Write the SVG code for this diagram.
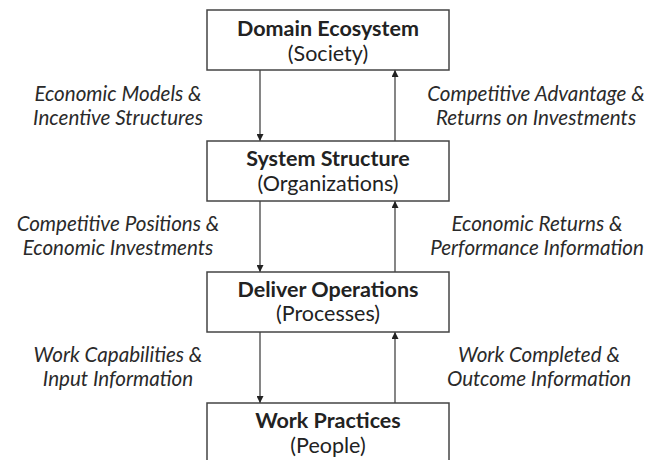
<svg xmlns="http://www.w3.org/2000/svg" width="665" height="460" viewBox="0 0 665 460">
<style>
.box{fill:#fff;stroke:#444;stroke-width:1.5}
.t{font-family:Lato,"Noto Sans",sans-serif;font-size:21.5px;fill:#222;text-anchor:middle}
.b{font-weight:bold}
.l{font-family:Lato,"Noto Sans",sans-serif;font-size:20.6px;font-style:italic;fill:#2a2a2a;text-anchor:middle}
.c{stroke:#444;stroke-width:1.3;fill:none;marker-end:url(#ah)}
</style>
<defs>
<marker id="ah" viewBox="0 0 10 10" refX="10" refY="5" markerWidth="7" markerHeight="7" markerUnits="userSpaceOnUse" orient="auto">
<path d="M0,0 L10,5 L0,10 Z" fill="#222"/>
</marker>
</defs>
<rect width="665" height="460" fill="#fff"/>
<g id="connectors">
<line class="c" x1="260" y1="70" x2="260" y2="141"/>
<line class="c" x1="395" y1="141" x2="395" y2="70"/>
<line class="c" x1="260" y1="201" x2="260" y2="272"/>
<line class="c" x1="395" y1="272" x2="395" y2="201"/>
<line class="c" x1="260" y1="332" x2="260" y2="403"/>
<line class="c" x1="395" y1="403" x2="395" y2="332"/>
<text class="l" x="118" y="101">Economic Models &amp;</text>
<text class="l" x="118" y="125">Incentive Structures</text>
<text class="l" x="536" y="101">Competitive Advantage &amp;</text>
<text class="l" x="536" y="125">Returns on Investments</text>
<text class="l" x="118" y="231">Competitive Positions &amp;</text>
<text class="l" x="118" y="255">Economic Investments</text>
<text class="l" x="537" y="231">Economic Returns &amp;</text>
<text class="l" x="537" y="255">Performance Information</text>
<text class="l" x="118" y="362">Work Capabilities &amp;</text>
<text class="l" x="118" y="386">Input Information</text>
<text class="l" x="539" y="362">Work Completed &amp;</text>
<text class="l" x="539" y="386">Outcome Information</text>
</g>
<g id="domain">
<rect class="box" x="207" y="10" width="242" height="60"/>
<text class="t b" x="328" y="35.5">Domain Ecosystem</text>
<text class="t" x="328" y="60.5">(Society)</text>
</g>
<g id="system">
<rect class="box" x="207" y="141" width="242" height="60"/>
<text class="t b" x="328" y="165.5">System Structure</text>
<text class="t" x="328" y="190.5">(Organizations)</text>
</g>
<g id="deliver">
<rect class="box" x="207" y="272" width="242" height="60"/>
<text class="t b" x="328" y="296.5">Deliver Operations</text>
<text class="t" x="328" y="321">(Processes)</text>
</g>
<g id="work">
<rect class="box" x="207" y="403" width="242" height="60"/>
<text class="t b" x="328" y="427.5">Work Practices</text>
<text class="t" x="328" y="452.5">(People)</text>
</g>
</svg>
